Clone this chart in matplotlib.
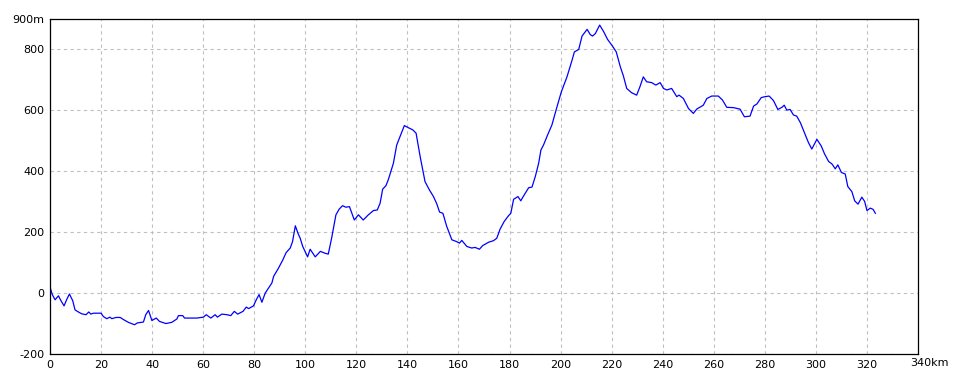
import matplotlib
matplotlib.use("Agg")
import matplotlib.pyplot as plt

# elevation profile: distance (km) and altitude (m)
dist_km = [0, 0.9, 2, 3.3, 4.3, 5.5, 6.5, 7.6, 8.9, 9.8, 10.7, 12.4, 14.1, 15.2, 16, 17, 20,
           20.9, 22.2, 23.5, 24.2, 25.9, 27.5, 28.8, 30.7, 33.1, 34.2, 36.6, 37.5, 38.6, 39.9,
           41.6, 42.9, 45.4, 47.7, 49.7, 50.3, 52, 52.7, 57.5, 60.1, 61.2, 63, 64.7, 65.6,
           67.3, 69.3, 70.8, 72.2, 73.5, 75.6, 76.9, 77.8, 79.7, 80.8, 81.9, 83, 84.3, 86,
           86.9, 87.6, 89.5, 91.2, 92.5, 94.1, 95, 96.1, 97.1, 98, 99, 100.9, 101.9, 103.9,
           105.9, 107.7, 109, 110.3, 112, 113.3, 114.6, 115.9, 117.3, 119.2, 120.8, 122.7,
           124.7, 126.7, 128.2, 129.3, 130.3, 131.6, 132.5, 134.5, 135.8, 137.1, 138.8,
           140.4, 142.1, 143.4, 145, 146.9, 148.6, 150.2, 151.5, 152.6, 153.9, 155.4, 157.4,
           159.3, 160.4, 161.3, 163.3, 165.2, 166.5, 168.2, 169.5, 171.8, 173.7, 175, 176.3,
           177.9, 179.6, 180.5, 181.6, 183.3, 184.4, 185.5, 187.5, 188.8, 190.1, 191.4,
           192.3, 193.3, 194.9, 196.6, 198.6, 200.3, 202.5, 204.5, 205.4, 207.1, 208.4,
           210.4, 211.6, 212.5, 213.6, 215.3, 216.9, 218.4, 220.5, 221.8, 223.4, 224.6,
           225.9, 227.8, 229.8, 231.1, 232.4, 233.7, 235.7, 237.3, 239, 240.3, 241.6, 243.5,
           245.5, 246.4, 248.1, 250.1, 252, 253.3, 255.9, 257.3, 259.2, 261.8, 263.4, 265.1,
           267.7, 270.3, 272, 274.2, 275.6, 276.9, 278.6, 280.1, 281.7, 283.4, 285.1, 286.7,
           287.6, 288.6, 289.9, 291.2, 292.5, 293.9, 295.8, 297.1, 298.4, 300.4, 302.1,
           303.4, 305, 306.3, 307.6, 308.6, 310, 311.5, 312.5, 314.1, 315.2, 316.5, 318,
           319.1, 320, 321.3, 322.4, 323.3]
alt_m = [20, -5, -22, -9, -25, -42, -22, -3, -25, -55, -60, -68, -71, -62, -69, -66, -66,
         -77, -84, -79, -84, -80, -80, -87, -96, -104, -98, -95, -71, -57, -90,
         -82, -93, -100, -96, -85, -74, -74, -82, -82, -79, -71, -82, -71, -79,
         -69, -71, -74, -60, -69, -60, -46, -51, -42, -22, -5, -30, 0, 22,
         33, 55, 82, 109, 133, 148, 169, 221, 197, 180, 153, 119, 144, 119,
         137, 131, 128, 180, 257, 276, 287, 282, 284, 240, 257, 240,
         257, 271, 273, 295, 341, 353, 372, 426, 486, 514, 550,
         543, 536, 525, 448, 366, 339, 317, 293, 266, 262, 219, 175,
         169, 164, 173, 153, 148, 150, 144, 156, 167, 172, 180, 210,
         235, 254, 262, 308, 317, 303, 319, 346, 348, 383, 426,
         470, 486, 519, 552, 612, 661, 710, 765, 792, 800, 844,
         866, 849, 844, 852, 880, 858, 833, 809, 792, 743, 713,
         672, 658, 650, 678, 710, 694, 691, 683, 691, 672, 667, 672,
         645, 650, 639, 606, 590, 604, 617, 639, 647, 647, 634, 610,
         609, 604, 579, 581, 614, 621, 642, 645, 647, 632, 603, 610,
         617, 601, 603, 585, 581, 560, 521, 494, 473, 505, 483,
         457, 432, 424, 408, 421, 396, 391, 350, 333, 303, 292, 315,
         301, 271, 279, 275, 262]

x_ticks = list(range(0, 341, 20))
x_labels = [str(v) for v in x_ticks[:-1]] + [""]
y_ticks = list(range(-200, 801, 200)) + [900]
y_labels = [str(v) for v in y_ticks[:-1]] + ["900m"]

fig = plt.figure(figsize=(9.6, 3.84), dpi=100)
ax = fig.add_axes([50 / 960, 30 / 384, 868 / 960, 335 / 384])
ax.plot(dist_km, alt_m, color="#0000ff", linewidth=0.9)

ax.set_xlim(0, 340)
ax.set_ylim(-200, 900)
ax.set_xticks(x_ticks)
ax.set_xticklabels(x_labels)
ax.set_yticks(y_ticks)
ax.set_yticklabels(y_labels)
ax.tick_params(length=0, labelsize=8, pad=4)
ax.grid(True, color="#c0c0c0", linestyle=(0, (3, 3)), linewidth=0.8)
for s in ax.spines.values():
    s.set_linewidth(0.9)
    s.set_color("black")

# unit label on the last x tick
ax.annotate("340km", xy=(340, -200), xycoords="data", xytext=(-8, -4),
            textcoords="offset pixels", ha="left", va="top", fontsize=8)

fig.savefig("out.png", dpi=100)
